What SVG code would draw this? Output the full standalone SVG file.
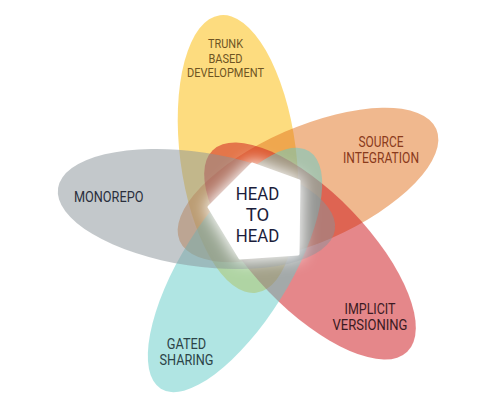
<svg xmlns="http://www.w3.org/2000/svg" width="492" height="420" viewBox="0 0 492 420">
<defs>
<style>
.petal{opacity:0.5}
.lbl{font-family:Roboto,"Liberation Sans",sans-serif;font-size:14px;text-anchor:middle}
.sm{font-size:12.5px}
.hub{font-family:Roboto,"Liberation Sans",sans-serif;font-size:18.5px;text-anchor:middle;fill:#1b1d3b}
</style>
<filter id="glow" x="-50%" y="-50%" width="200%" height="200%"><feGaussianBlur stdDeviation="8"/></filter>
</defs>
<rect width="492" height="420" fill="#fff"/>
<g id="connectors"/>
<g id="trunk">
<ellipse class="petal" rx="140" ry="58" fill="#fbb900" transform="translate(238,154) rotate(-97.4)"/>
<text class="lbl sm" fill="#6e5423"><tspan x="225.5" y="48.3" textLength="35" lengthAdjust="spacingAndGlyphs">TRUNK</tspan><tspan x="225.5" y="62.5" textLength="34" lengthAdjust="spacingAndGlyphs">BASED</tspan><tspan x="225.5" y="76.5" textLength="77" lengthAdjust="spacingAndGlyphs">DEVELOPMENT</tspan></text>
</g>
<g id="source">
<ellipse class="petal" rx="140" ry="58" fill="#e1711d" transform="translate(308,185) rotate(-23.6)"/>
<text class="lbl" fill="#8a3a1b"><tspan x="381" y="146.7" textLength="45" lengthAdjust="spacingAndGlyphs">SOURCE</tspan><tspan x="381" y="162.7" textLength="76" lengthAdjust="spacingAndGlyphs">INTEGRATION</tspan></text>
</g>
<g id="implicit">
<ellipse class="petal" rx="140" ry="58" fill="#cb0f15" transform="translate(310,251) rotate(46)"/>
<text class="lbl" fill="#3b1a22"><tspan x="370" y="314" textLength="51" lengthAdjust="spacingAndGlyphs">IMPLICIT</tspan><tspan x="370" y="330" textLength="75" lengthAdjust="spacingAndGlyphs">VERSIONING</tspan></text>
</g>
<g id="gated">
<ellipse class="petal" rx="140" ry="54" fill="#61cbc7" transform="translate(235,270) rotate(122)"/>
<text class="lbl" fill="#2c4448"><tspan x="186.5" y="348.5" textLength="39.5" lengthAdjust="spacingAndGlyphs">GATED</tspan><tspan x="186.5" y="365" textLength="54" lengthAdjust="spacingAndGlyphs">SHARING</tspan></text>
</g>
<g id="monorepo">
<ellipse class="petal" rx="140" ry="57" fill="#879197" transform="translate(196.5,209) rotate(8.6)"/>
<text class="lbl" fill="#2a2f3d" x="108.7" y="201.7" textLength="69.5" lengthAdjust="spacingAndGlyphs">MONOREPO</text>
</g>
<g id="head">
<path d="M252,164 L299,181 L298,254 L240,258 L209,207 Z" fill="#fff" stroke="#fff" stroke-width="8" stroke-linejoin="round" filter="url(#glow)"/>
<path d="M252,164 L299,181 L298,254 L240,258 L209,207 Z" fill="#fff" stroke="#fff" stroke-width="3" stroke-linejoin="round"/>
<text class="hub"><tspan x="257.5" y="199.5" textLength="43.5" lengthAdjust="spacingAndGlyphs">HEAD</tspan><tspan x="257.5" y="220.5">TO</tspan><tspan x="257.5" y="241.7" textLength="43.5" lengthAdjust="spacingAndGlyphs">HEAD</tspan></text>
</g>
</svg>
